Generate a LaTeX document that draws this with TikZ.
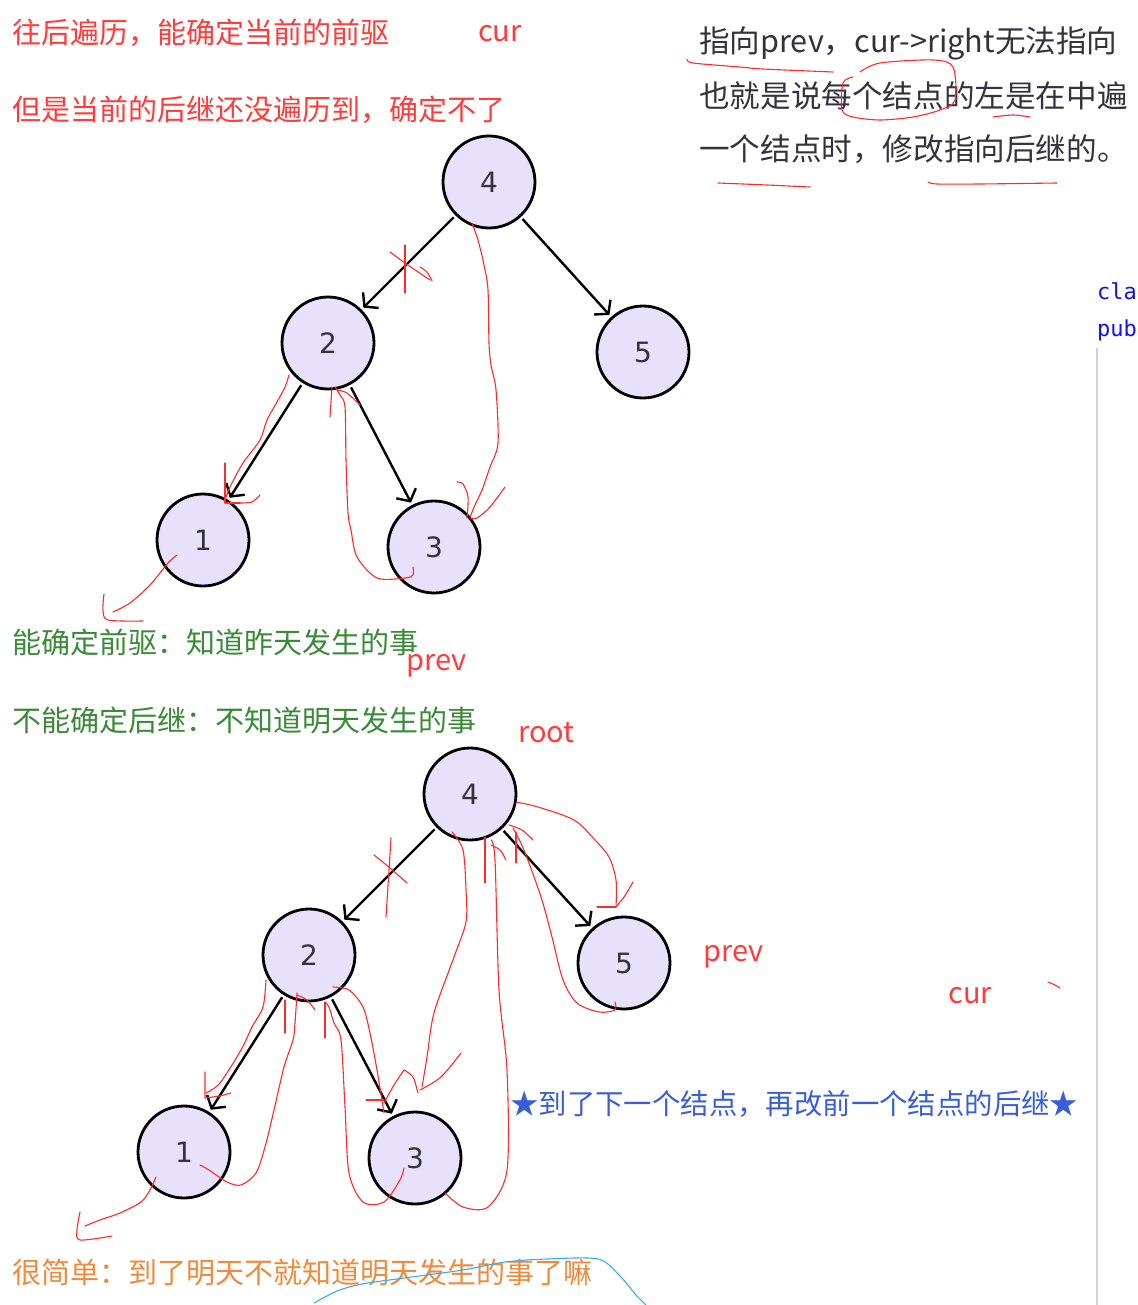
\documentclass[tikz,border=0pt]{standalone}
\usepackage{fontspec}
\setmainfont{Noto Sans CJK SC}
\newfontfamily\numfont{DejaVu Sans}
\newfontfamily\codefont{DejaVu Sans Mono}
\usetikzlibrary{arrows.meta}
\definecolor{lav}{HTML}{E8E1FB}
\definecolor{numgray}{HTML}{333340}
\definecolor{notered}{HTML}{FF3B3B}
\definecolor{notegreen}{HTML}{3A8A38}
\definecolor{noteblue}{HTML}{3A5ED8}
\definecolor{noteorange}{HTML}{F08A3C}
\definecolor{handred}{HTML}{FF2A2A}
\definecolor{handblue}{HTML}{3AAEE6}
\definecolor{codeblue}{HTML}{1010F0}

\begin{document}
\begin{tikzpicture}[x=1pt,y=-1pt,
    tnode/.style={circle,draw=black,line width=2.8pt,fill=lav,minimum size=92pt,
      inner sep=0pt,outer sep=4pt,text=numgray,font=\numfont\fontsize{28}{30}\selectfont},
    link/.style={line width=2.4pt,-{Straight Barb[length=9pt,width=22pt]}},
    hand/.style={handred,line width=1.1pt,line cap=round,line join=round},
    txt/.style={anchor=west,inner sep=0pt,font=\fontsize{29}{34}\selectfont},
    doc/.style={anchor=west,inner sep=0pt,text=numgray,font=\fontsize{30.6}{36}\selectfont},
    code/.style={anchor=west,inner sep=0pt,text=codeblue,font=\codefont\fontsize{22}{26}\selectfont}]
        \useasboundingbox (0,0) rectangle (1137,1305);
        \clip (0,0) rectangle (1137,1305);
        \fill[white] (0,0) rectangle (1137,1305);
        % notes on the left
        \node[txt,text=notered] (n1) at (12,33) {往后遍历，能确定当前的前驱};
        \node[txt,text=notered] (curA) at (478,34) {cur};
        \node[txt,text=notered] (n2) at (12,110) {但是当前的后继还没遍历到，确定不了};
        \node[txt,text=notegreen] (n3) at (12,642) {能确定前驱：知道昨天发生的事};
        \node[txt,text=notered] (prevA) at (406,666) {prev};
        \node[txt,text=notegreen] (n4) at (12,720) {不能确定后继：不知道明天发生的事};
        \node[txt,text=notered] (rootB) at (518,733) {root};
        \node[txt,text=notered] (prevB) at (703,957) {prev};
        \node[txt,text=notered] (curB) at (948,996) {cur};
        \node[txt,text=noteblue,font=\fontsize{28.4}{34}\selectfont] (n5) at (510,1104) {★到了下一个结点，再改前一个结点的后继★};
        \node[txt,text=noteorange] (n6) at (12,1273) {很简单：到了明天不就知道明天发生的事了嘛};
        % text on the right
        \node[doc] (d1) at (699,43) {指向prev，cur->right无法指向};
        \node[doc] (d2) at (699,96) {也就是说每个结点的左是在中遍};
        \node[doc] (d3) at (699,149) {一个结点时，修改指向后继的。};
        \node[code] (c1) at (1097,291) {cla};
        \node[code] (c2) at (1097,330) {pub};
        \draw[gray!35,line width=2pt] (1097,348) -- (1097,1305);
        % first tree
        \node[tnode] (a4) at (489,182) {4};
        \node[tnode] (a2) at (328,343) {2};
        \node[tnode] (a5) at (643,352) {5};
        \node[tnode] (a1) at (203,540) {1};
        \node[tnode] (a3) at (434,547) {3};
        \draw[link] (a4) -- (a2);
        \draw[link] (a4) -- (a5);
        \draw[link] (a2) -- (a1);
        \draw[link] (a2) -- (a3);
        % second tree
        \node[tnode] (b4) at (470,794) {4};
        \node[tnode] (b2) at (309,955) {2};
        \node[tnode] (b5) at (624,963) {5};
        \node[tnode] (b1) at (184,1152) {1};
        \node[tnode] (b3) at (415,1158) {3};
        \draw[link] (b4) -- (b2);
        \draw[link] (b4) -- (b5);
        \draw[link] (b2) -- (b1);
        \draw[link] (b2) -- (b3);
        % red strokes, first tree
        \draw[hand] (405,245) -- (405,293);
        \draw[hand] plot[smooth] coordinates {(390,252) (405,263) (430,280)};
        \draw[hand] plot[smooth] coordinates {(420,267) (427,272) (432,281)};
        \draw[hand] plot[smooth] coordinates {(472,223) (478,240) (484,265) (488,290) (489,343) (491,365) (496,390) (498,443) (490,467) (482,490) (475,505) (470,517)};
        \draw[hand] plot[smooth] coordinates {(457,482) (463,484) (468,497) (467,518)};
        \draw[hand] plot[smooth] coordinates {(505,487) (490,507) (477,518) (470,518)};
        \draw[hand] plot[smooth] coordinates {(289,375) (285,387) (277,402) (267,420) (260,440) (243,463) (230,487) (225,500)};
        \draw[hand] (225,463) -- (225,503) -- (240,503);
        \draw[hand] plot[smooth] coordinates {(240,503) (252,502) (260,495)};
        \draw[hand] plot[smooth] coordinates {(413,567) (413,575) (405,578) (377,578) (357,557) (351,530) (348,513) (346,460) (345,407) (340,395) (335,387)};
        \draw[hand] (330,417) -- (332,387);
        \draw[hand] plot[smooth] coordinates {(337,390) (347,393) (360,405)};
        \draw[hand] plot[smooth] coordinates {(177,555) (168,563) (150,585) (130,603) (113,612)};
        \draw[hand] plot[smooth] coordinates {(104,594) (103,610) (108,620) (143,621)};
        % red strokes, second tree
        \draw[hand] (391,838) -- (386,917);
        \draw[hand] plot[smooth] coordinates {(374,855) (390,868) (407,883)};
        \draw[hand] plot[smooth] coordinates {(452,832) (463,850) (466,890) (466,922) (454,957) (434,1013) (427,1057) (422,1087)};
        \draw[hand] plot[smooth] coordinates {(404,1070) (413,1077) (418,1093)};
        \draw[hand] plot[smooth] coordinates {(461,1053) (441,1077) (420,1090)};
        \draw[hand] plot[smooth] coordinates {(404,1070) (394,1085) (384,1103)};
        \draw[hand] (366,1100) -- (384,1100);
        \draw[hand] plot[smooth] coordinates {(445,1193) (463,1207) (488,1207) (507,1170) (507,1070) (499,990) (495,860) (491,840)};
        \draw[hand] (485,883) -- (485,837);
        \draw[hand] plot[smooth] coordinates {(491,845) (500,850) (506,860)};
        \draw[hand] plot[smooth] coordinates {(516,802) (538,807) (574,820) (595,840) (609,857) (616,880) (616,907)};
        \draw[hand] (597,907) -- (616,907);
        \draw[hand] plot[smooth] coordinates {(616,907) (624,897) (633,882)};
        \draw[hand] plot[smooth] coordinates {(615,1002) (615,1010) (599,1012) (577,1003) (563,980) (552,937) (541,897) (524,850) (513,828)};
        \draw[hand] (516,863) -- (516,832);
        \draw[hand] plot[smooth] coordinates {(509,825) (522,830) (533,840)};
        \draw[hand] plot[smooth] coordinates {(266,980) (263,1007) (252,1027) (241,1050) (220,1083) (206,1093)};
        \draw[hand] (205,1072) -- (205,1098) -- (220,1096);
        \draw[hand] plot[smooth] coordinates {(220,1096) (231,1093)};
        \draw[hand] plot[smooth] coordinates {(200,1165) (209,1170) (227,1182) (241,1185) (256,1173) (265,1147) (274,1110) (284,1067) (293,1040) (295,1023) (297,993)};
        \draw[hand] (285,1033) -- (285,1000);
        \draw[hand] plot[smooth] coordinates {(297,995) (307,1000) (315,1010)};
        \draw[hand] plot[smooth] coordinates {(333,987) (349,990) (363,1007) (370,1033) (377,1070) (384,1113)};
        \draw[hand] plot[smooth] coordinates {(404,1168) (400,1180) (384,1202) (363,1202) (349,1173) (345,1107) (341,1040) (334,1023) (329,1007) (325,1002)};
        \draw[hand] (325,1038) -- (325,1002);
        \draw[hand] plot[smooth] coordinates {(156,1177) (150,1190) (141,1202) (120,1213) (100,1220) (85,1226)};
        \draw[hand] plot[smooth] coordinates {(80,1212) (77,1230) (80,1240) (112,1236)};
        \draw[hand] plot[smooth] coordinates {(1048,982) (1055,985) (1060,988)};
        % red marks on the right text
        \draw[hand] plot[smooth] coordinates {(687,59) (693,63) (740,67) (763,69) (833,72)};
        \draw[hand] plot[smooth] coordinates {(860,72) (880,63) (933,60) (953,67) (955,100) (940,110) (913,117) (880,120) (853,117) (842,110) (843,83) (853,77)};
        \draw[hand] plot[smooth] coordinates {(993,117) (1013,115) (1030,117)};
        \draw[hand] plot[smooth] coordinates {(718,183) (767,185) (810,187)};
        \draw[hand] plot[smooth] coordinates {(928,182) (937,184) (980,184) (1057,183)};
        % blue stroke at the bottom
        \draw[handblue,line width=1.1pt] plot[smooth] coordinates {(314,1303) (337,1291) (362,1284) (404,1278) (463,1270) (505,1262) (547,1259) (598,1259) (619,1275) (636,1295) (646,1305)};
\end{tikzpicture}
\end{document}
